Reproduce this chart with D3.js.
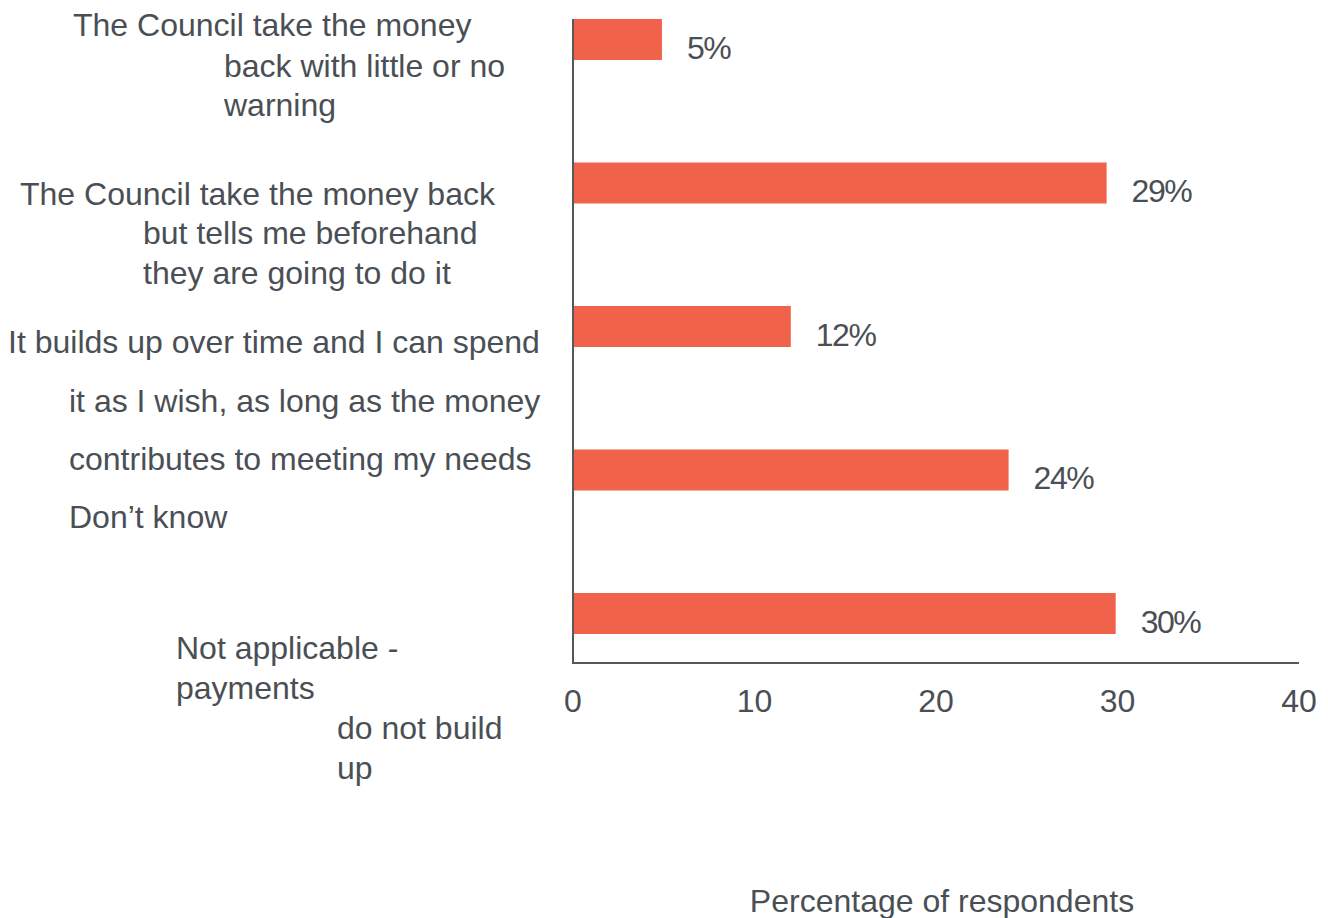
<!DOCTYPE html>
<html>
<head>
<meta charset="utf-8">
<script src="https://cdn.jsdelivr.net/npm/d3@7"></script>
<style>
	body { margin: 0; background: #fff; }
	text { font-family: "Liberation Sans", Arial, sans-serif; fill: #4a4f55; }
</style>
</head>
<body>
<svg id="chart" width="1328" height="918"></svg>
<script>
// data
const categories = ["little_warning", "tells_beforehand", "builds_up", "dont_know", "not_applicable"];
const values = [4.9, 29.4, 12.0, 24.0, 29.9];
const valueLabels = ["5%", "29%", "12%", "24%", "30%"];
const xTicks = [0, 10, 20, 30, 40];
const axisTitle = "Percentage of respondents";

// the category text, line by line, as it is wrapped in the picture
const labelLines = [
	"The Council take the money",
	"back with little or no",
	"warning",
	"The Council take the money back",
	"but tells me beforehand",
	"they are going to do it",
	"It builds up over time and I can spend",
	"it as I wish, as long as the money",
	"contributes to meeting my needs",
	"Don\u2019t know",
	"Not applicable -",
	"payments",
	"do not build",
	"up"
];
// layout of those lines (left x, centre y)
const labelX = [73, 224, 224, 20, 143, 143, 8, 69, 69, 69, 176, 176, 337, 337];
const labelY = [25, 66, 105, 194, 233, 273, 342, 401, 459, 517, 648, 688, 728, 768];

const barColor = "#f0634a";
const axisColor = "#55595e";
const fontSize = 32;

const svg = d3.select("#chart");
const plotLeft = 573, plotRight = 1299, plotTop = 19, plotBottom = 663;

const x = d3.scaleLinear().domain([0, 40]).range([plotLeft, plotRight]);
const y = d3.scalePoint().domain(categories).range([39.5, 613.5]);
const barH = 41;

// bars
svg.selectAll("rect.bar")
	.data(categories)
	.join("rect")
	.attr("class", "bar")
	.attr("x", x(0))
	.attr("y", d => y(d) - barH / 2)
	.attr("width", (d, i) => x(values[i]) - x(0))
	.attr("height", barH)
	.attr("fill", barColor);

// value labels
svg.selectAll("text.val")
	.data(categories)
	.join("text")
	.attr("class", "val")
	.attr("x", (d, i) => x(values[i]) + 25)
	.attr("y", d => y(d) + 8)
	.attr("dominant-baseline", "central")
	.style("font-size", fontSize + "px")
	.style("letter-spacing", "-1.5px")
	.text((d, i) => valueLabels[i]);

// axis lines
svg.append("line")
	.attr("x1", plotLeft).attr("x2", plotLeft)
	.attr("y1", plotTop).attr("y2", plotBottom)
	.attr("stroke", axisColor).attr("stroke-width", 2);
svg.append("line")
	.attr("x1", plotLeft - 1).attr("x2", plotRight)
	.attr("y1", plotBottom).attr("y2", plotBottom)
	.attr("stroke", axisColor).attr("stroke-width", 2);

// x tick labels
svg.selectAll("text.tick")
	.data(xTicks)
	.join("text")
	.attr("class", "tick")
	.attr("x", d => x(d))
	.attr("y", 701)
	.attr("text-anchor", "middle")
	.attr("dominant-baseline", "central")
	.style("font-size", fontSize + "px")
	.text(d => d);

// axis title
svg.append("text")
	.attr("x", 942)
	.attr("y", 901)
	.attr("text-anchor", "middle")
	.attr("dominant-baseline", "central")
	.style("font-size", fontSize + "px")
	.text(axisTitle);

// category labels
svg.selectAll("text.cat")
	.data(labelLines)
	.join("text")
	.attr("class", "cat")
	.attr("x", (d, i) => labelX[i])
	.attr("y", (d, i) => labelY[i])
	.attr("dominant-baseline", "central")
	.style("font-size", fontSize + "px")
	.text(d => d);
</script>
</body>
</html>
